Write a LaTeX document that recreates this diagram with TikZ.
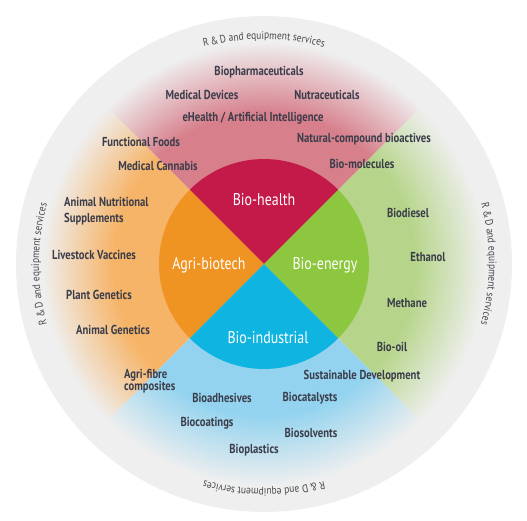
\documentclass[tikz,border=0pt]{standalone}
\usepackage{fontspec}
\usetikzlibrary{decorations.text}
\newfontfamily\labfont[FakeStretch=0.82]{PT Sans}
\newfontfamily\rdfont[FakeStretch=0.86]{PT Sans}
\definecolor{labgray}{HTML}{3B3D4A}
\definecolor{rdgray}{HTML}{4A4A4E}
\definecolor{disccol}{HTML}{EFEFEF}
\definecolor{healthcol}{HTML}{C41A4A}
\definecolor{agricol}{HTML}{EF9322}
\definecolor{energycol}{HTML}{8DC63F}
\definecolor{induscol}{HTML}{10B4E0}
\definecolor{healthlt}{HTML}{D7808C}
\definecolor{agrilt}{HTML}{F6B468}
\definecolor{energylt}{HTML}{B6D58A}
\definecolor{induslt}{HTML}{93D3EF}
\colorlet{petalcol}{healthlt}
\pgfdeclareradialshading[petalcol]{petal}{\pgfpointorigin}{%
  color(0bp)=(petalcol); color(17bp)=(petalcol);
  color(25bp)=(disccol); color(50bp)=(disccol)}

\begin{document}
\begin{tikzpicture}[x=1pt,y=1pt,
    item/.style={font=\labfont\bfseries\fontsize{13}{15}\selectfont,
        text=labgray,inner sep=1pt},
    core/.style={font=\labfont\fontsize{17}{19}\selectfont,text=white,inner sep=1pt},
    rd/.style={decorate,decoration={text along path,text align=center,
        text={|\rdfont\fontsize{11}{13}\selectfont\color{rdgray}|{R\,\&\,D} and equipment services}}}
  ]
  \useasboundingbox (-264,-256) rectangle (263,264);
  \fill[disccol] (0,0) circle (248);
  \foreach \a/\c in {90/healthlt,180/agrilt,0/energylt,270/induslt}{
    \begin{scope}
      \colorlet{petalcol}{\c}
      \clip (0,0) -- (\a-45:240) arc[start angle=\a-45,end angle=\a+45,radius=240] -- cycle;
      \shade[shading=petal] (0,0) circle (222);
    \end{scope}
  }
  \foreach \a/\c in {90/healthcol,180/agricol,0/energycol,270/induscol}
    \fill[\c] (0,0) -- (\a-45:105) arc[start angle=\a-45,end angle=\a+45,radius=105] -- cycle;

  \path[rd] (125:225) arc[start angle=125,end angle=55,radius=225];
  \path[rd] (35:225) arc[start angle=35,end angle=-35,radius=225];
  \path[rd] (-55:225) arc[start angle=-55,end angle=-125,radius=225];
  \path[rd] (215:225) arc[start angle=215,end angle=145,radius=225];

  \node[core] (bh) at (0,64) {Bio-health};
  \node[core] (ab) at (-55,-1) {Agri-biotech};
  \node[core] (be) at (61,-1) {Bio-energy};
  \node[core] (bi) at (4,-74) {Bio-industrial};

  \node[item] (biopharm) at (-5,192) {Biopharmaceuticals};
  \node[item] (meddev) at (-62,169) {Medical Devices};
  \node[item] (nutra) at (63,169) {Nutraceuticals};
  \node[item] (ehealth) at (-11,146) {eHealth / Artificial Intelligence};
  \node[item] (funcfood) at (-123,122) {Functional Foods};
  \node[item] (natcomp) at (100,125) {Natural-compound bioactives};
  \node[item] (medcann) at (-106,98) {Medical Cannabis};
  \node[item] (biomol) at (98,100) {Bio-molecules};

  \node[item,align=left,anchor=west] (animnut) at (-201,53) {Animal Nutritional\\[1pt]Supplements};
  \node[item] (livevacc) at (-170,9) {Livestock Vaccines};
  \node[item] (plantgen) at (-165,-31) {Plant Genetics};
  \node[item] (animgen) at (-151,-66) {Animal Genetics};

  \node[item] (biodiesel) at (144,51) {Biodiesel};
  \node[item] (ethanol) at (164,7) {Ethanol};
  \node[item] (methane) at (143,-39) {Methane};
  \node[item] (biooil) at (128,-83) {Bio-oil};

  \node[item,align=left,anchor=west] (agrifibre) at (-141,-117) {Agri-fibre\\[-3pt]composites};
  \node[item] (sustdev) at (98,-112) {Sustainable Development};
  \node[item] (bioadh) at (-42,-134) {Bioadhesives};
  \node[item] (biocat) at (46,-134) {Biocatalysts};
  \node[item] (biocoat) at (-57,-159) {Biocoatings};
  \node[item] (biosolv) at (47,-169) {Biosolvents};
  \node[item] (bioplast) at (-10,-186) {Bioplastics};
\end{tikzpicture}
\end{document}
